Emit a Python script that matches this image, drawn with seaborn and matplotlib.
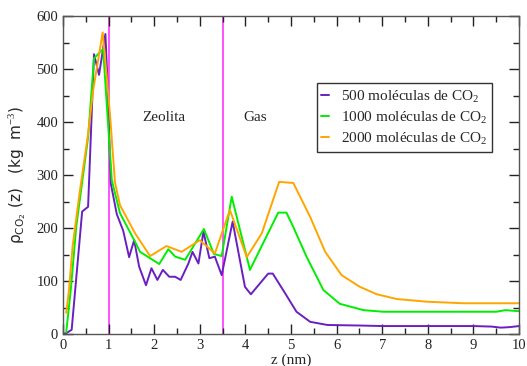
import matplotlib
matplotlib.use("Agg")
import matplotlib.pyplot as plt
from matplotlib.ticker import MultipleLocator
import pandas as pd
import seaborn as sns

# Density profiles of CO2 along z (nm) for three loadings
z_500 = [0.0, 0.08, 0.19, 0.42, 0.55, 0.68, 0.79, 0.93, 0.97, 1.05, 1.18, 1.32, 1.45,
         1.56, 1.67, 1.82, 1.94, 2.07, 2.19, 2.33, 2.46, 2.58, 2.75, 2.84, 2.97, 3.08,
         3.21, 3.33, 3.48, 3.72, 3.99, 4.12, 4.50, 4.60, 4.87, 5.12, 5.42, 5.8, 6.5,
         7.0, 8.0, 9.0, 9.4, 9.6, 9.8, 10.0]
rho_500 = [0, 2, 8, 231, 240, 528, 489, 566, 487, 283, 226, 195, 145,
           177, 127, 92, 124, 102, 121, 108, 108, 102, 133, 155, 133, 193,
           143, 146, 111, 212, 89, 75, 114, 114, 77, 42, 23, 17, 16,
           15, 15, 15, 14, 12, 13, 15]

z_1000 = [0.07, 0.17, 0.29, 0.55, 0.68, 0.88, 0.97, 1.07, 1.25, 1.58, 1.69, 2.11, 2.31,
          2.46, 2.68, 3.09, 3.31, 3.48, 3.70, 4.10, 4.72, 4.90, 5.05, 5.34, 5.71, 6.07,
          6.59, 7.02, 8.0, 9.0, 9.5, 9.7, 10.0]
rho_1000 = [3, 83, 202, 371, 520, 538, 420, 290, 228, 174, 155, 132, 160,
            146, 140, 198, 151, 147, 259, 121, 229, 229, 202, 146, 83, 57,
            45, 42, 42, 42, 42, 45, 43]

z_2000 = [0.07, 0.13, 0.21, 0.37, 0.55, 0.66, 0.87, 0.96, 1.03, 1.14, 1.25, 1.58, 1.91,
          2.27, 2.60, 3.00, 3.33, 3.66, 4.03, 4.36, 4.74, 5.05, 5.42, 5.75, 6.11, 6.51,
          6.88, 7.32, 7.97, 8.78, 10.0]
rho_2000 = [40, 82, 165, 270, 377, 459, 569, 484, 415, 286, 243, 190, 147,
            166, 155, 177, 152, 234, 145, 190, 287, 285, 221, 155, 111, 89,
            75, 66, 61, 58, 58]

labels = ["500 moléculas de CO$_2$", "1000 moléculas de CO$_2$", "2000 moléculas de CO$_2$"]
colors = ["#6a1fc0", "#00ee00", "#ffa500"]
boundaries = [1.0, 3.5]

frames = []
for zs, rs, lab in [(z_500, rho_500, labels[0]), (z_1000, rho_1000, labels[1]),
                    (z_2000, rho_2000, labels[2])]:
    df = pd.DataFrame({"z": zs, "rho": rs})
    df["serie"] = lab
    frames.append(df)
data = pd.concat(frames, ignore_index=True)

sns.set_theme(style="ticks")
plt.rcParams["font.family"] = ["Liberation Serif", "DejaVu Serif"]
plt.rcParams["mathtext.fontset"] = "custom"
plt.rcParams["mathtext.rm"] = "Liberation Serif"

fig = plt.figure(figsize=(5.27, 3.66), dpi=100)
ax = fig.add_axes([63 / 527, 1 - 334 / 366, 456 / 527, 318 / 366])

sns.lineplot(data=data, x="z", y="rho", hue="serie", palette=colors, sort=False,
             estimator=None, units="serie", linewidth=1.4, ax=ax, legend=True)

for b in boundaries:
    ax.axvline(b, color="#ff33ff", linewidth=1.2, zorder=0)

ax.set_xlim(0, 10)
ax.set_ylim(0, 600)
ax.xaxis.set_major_locator(MultipleLocator(1))
ax.xaxis.set_minor_locator(MultipleLocator(0.5))
ax.yaxis.set_major_locator(MultipleLocator(100))
ax.yaxis.set_minor_locator(MultipleLocator(50))
ax.tick_params(which="both", direction="in", top=True, right=True, labelsize=10.5,
               colors="#222222", width=1)
ax.tick_params(which="major", length=7)
ax.tick_params(which="minor", length=4)
for sp in ax.spines.values():
    sp.set_color("#555555")
    sp.set_linewidth(1)

ax.set_xlabel("z (nm)", fontsize=11, labelpad=1)
ax.set_ylabel(r"$\mathregular{\rho}_{\mathregular{CO_2}}$ (z)   (kg  m$^{-3}$)",
              fontsize=11, family=["DejaVu Sans"], labelpad=6)

ax.text(1.75, 409, "Zeolita", fontsize=11, va="center", ha="left")
ax.text(3.95, 409, "Gas", fontsize=11, va="center", ha="left")

leg = ax.legend(loc="upper left", bbox_to_anchor=(0.556, 0.788), title=None,
                fontsize=11, handlelength=0.5, handletextpad=0.8, borderpad=0.3,
                borderaxespad=0, labelspacing=0.3, fancybox=False, framealpha=1,
                edgecolor="#333333")
leg.get_frame().set_linewidth(1)

fig.savefig("out.png", dpi=100)
